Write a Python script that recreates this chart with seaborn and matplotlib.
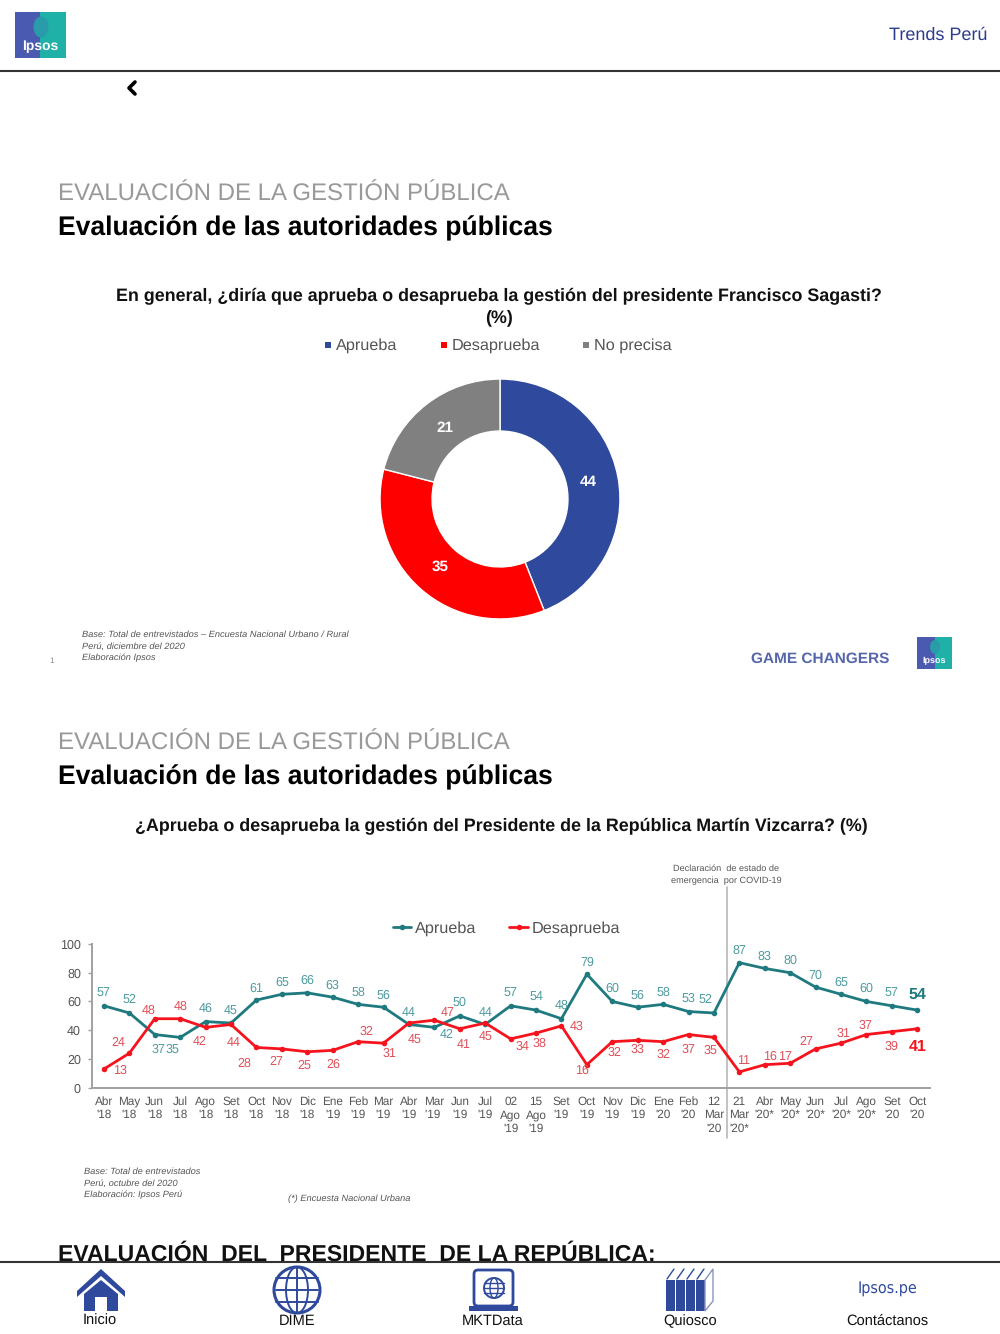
import matplotlib
matplotlib.use('Agg')
import matplotlib.pyplot as plt
import matplotlib.patches as mp
import pandas as pd
import seaborn as sns

# donut
donut_labels = ['Aprueba', 'Desaprueba', 'No precisa']
donut_values = [44, 35, 21]

# serie mensual
meses = ["Abr\n'18", "May\n'18", "Jun\n'18", "Jul\n'18", "Ago\n'18", "Set\n'18", "Oct\n'18", "Nov\n'18",
         "Dic\n'18", "Ene\n'19", "Feb\n'19", "Mar\n'19", "Abr\n'19", "Mar\n'19 ", "Jun\n'19", "Jul\n'19",
         "02\nAgo\n'19", "15\nAgo\n'19", "Set\n'19", "Oct\n'19", "Nov\n'19", "Dic\n'19", "Ene\n'20", "Feb\n'20",
         "12\nMar\n'20", "21\nMar\n'20*", "Abr\n'20*", "May\n'20*", "Jun\n'20*", "Jul\n'20*", "Ago\n'20*",
         "Set\n'20", "Oct\n'20"]
aprueba = [57, 52, 37, 35, 46, 45, 61, 65, 66, 63, 58, 56, 44, 42, 50, 44, 57, 54, 48, 79, 60, 56, 58, 53, 52,
           87, 83, 80, 70, 65, 60, 57, 54]
desaprueba = [13, 24, 48, 48, 42, 44, 28, 27, 25, 26, 32, 31, 45, 47, 41, 45, 34, 38, 43, 16, 32, 33, 32, 37, 35,
              11, 16, 17, 27, 31, 37, 39, 41]

# desplazamiento de cada etiqueta respecto a su punto, en pixeles
off_apr = [(0, 13), (0, 14), (4, -14), (-8, -11), (0, 14), (0, 13), (0, 13), (0, 13), (0, 13), (0, 13), (0, 13),
           (0, 13), (0, 13), (12, -6), (0, 14), (0, 13), (0, 13), (0, 14), (0, 14), (0, 13), (0, 14), (0, 13),
           (0, 13), (0, 14), (-9, 14), (0, 13), (0, 13), (0, 13), (0, 13), (0, 13), (0, 14), (0, 13), (0, 16)]
off_des = [(16, 0), (-11, 12), (-6, 9), (0, 13), (-6, -13), (3, -17), (-12, -15), (-6, -12), (-3, -13), (1, -13),
           (8, 11), (6, -9), (6, -16), (13, 9), (4, -15), (0, -13), (12, -7), (3, -9), (15, 0), (-5, -5), (2, -10),
           (0, -8), (0, -12), (0, -14), (-3, -12), (4, 12), (5, 9), (-5, 8), (-9, 8), (2, 11), (-1, 10), (0, -14),
           (0, -17)]

AZUL = '#2f4a9c'
ROJO = '#fe0000'
ROJO_LINEA = '#f5141e'
GRIS = '#808080'
TEAL = '#1f7a80'
TEAL_TXT = '#4f9ca0'
ROJO_TXT = '#e0505a'
INK = '#2c3b8c'

sns.set_theme(style='white')
plt.rcParams['font.family'] = ['Liberation Sans', 'DejaVu Sans']
plt.rcParams['text.hinting'] = 'no_hinting'

W, H = 1000, 1334
fig = plt.figure(figsize=(W / 100, H / 100), dpi=100, facecolor='white')


def px_axes(l, t, r, b):
    return fig.add_axes([l / W, 1 - b / H, (r - l) / W, (b - t) / H])


# capa de fondo en pixeles para textos e iconos
bg = fig.add_axes([0, 0, 1, 1], zorder=5)
bg.set_xlim(0, W)
bg.set_ylim(H, 0)
bg.axis('off')
bg.patch.set_alpha(0)

# donut
ax1 = px_axes(378, 377, 622, 621)
ax1.pie(donut_values, colors=[AZUL, ROJO, GRIS], startangle=90, counterclock=False, radius=1,
        wedgeprops=dict(width=52 / 120, edgecolor='white', linewidth=1),
        autopct=lambda p: f'{p:.0f}', pctdistance=0.75,
        textprops=dict(color='white', fontweight='bold', fontsize=11))
ax1.set_xlim(-1.017, 1.017)
ax1.set_ylim(-1.017, 1.017)

# lineas
df = pd.DataFrame({'mes': meses * 2,
                   'valor': aprueba + desaprueba,
                   'serie': ['Aprueba'] * len(meses) + ['Desaprueba'] * len(meses)})
ax2 = px_axes(92, 944, 930, 1087.7)
sns.lineplot(data=df, x='mes', y='valor', hue='serie', palette={'Aprueba': TEAL, 'Desaprueba': ROJO_LINEA},
             marker='o', markersize=4, markeredgewidth=0, linewidth=2, sort=False, ax=ax2)
ax2.set_xlim(-0.47, 32.5)
ax2.set_ylim(0, 100)
ax2.set_xlabel('')
ax2.set_ylabel('')
ax2.set_yticks([0, 20, 40, 60, 80, 100])
ax2.tick_params(axis='y', labelsize=9, labelcolor='#555555', length=3, width=1, color='#a0a0a0', pad=5, left=True)
ax2.tick_params(axis='x', labelsize=8.5, labelcolor='#555555', length=0, pad=6)
for lab in ax2.get_xticklabels():
    lab.set_linespacing(1.25)
for s in ['top', 'right']:
    ax2.spines[s].set_visible(False)
for s in ['left', 'bottom']:
    ax2.spines[s].set_color('#a0a0a0')
    ax2.spines[s].set_linewidth(1.4)

handles, labels = ax2.get_legend_handles_labels()
ax2.legend(handles, labels, ncol=2, frameon=False, loc='center', bbox_to_anchor=(506.5, 929),
           bbox_transform=bg.transData, fontsize=11.7, labelcolor='#555555', handlelength=1.15,
           handletextpad=0.25, columnspacing=2.0, borderpad=0)

for i, (a, d) in enumerate(zip(aprueba, desaprueba)):
    last = i == len(meses) - 1
    size = 11.5 if last else 9
    weight = 'bold' if last else 'normal'
    ax2.annotate(str(a), (i, a), xytext=(off_apr[i][0], off_apr[i][1] - 1), textcoords='offset pixels',
                 ha='center', va='center', fontsize=size, fontweight=weight, color=TEAL if last else TEAL_TXT)
    ax2.annotate(str(d), (i, d), xytext=(off_des[i][0], off_des[i][1] - 1), textcoords='offset pixels',
                 ha='center', va='center', fontsize=size, fontweight=weight, color=ROJO_LINEA if last else ROJO_TXT)

# linea de la declaracion de emergencia
ax2.plot([24.5, 24.5], [-35, 139.6], color='#b8b8b8', lw=1.2, clip_on=False, zorder=1)

# cabecera
bg.plot([0, W], [71, 71], color='#333333', lw=1.5)
bg.add_patch(mp.Rectangle((15, 12), 25, 46, color='#4a5ab0', lw=0))
bg.add_patch(mp.Rectangle((40, 12), 26, 46, color='#1fb0a8', lw=0))
bg.add_patch(mp.Ellipse((41, 27), 15, 21, color='#2a9ba8', lw=0))
bg.text(40, 46, 'Ipsos', color='white', fontsize=10, fontweight='bold', ha='center', va='center')
bg.text(987, 35, 'Trends Perú', color=INK, fontsize=13, ha='right', va='center')
bg.plot([135, 129, 135], [82, 88, 94], color='black', lw=2.6, solid_capstyle='round')

# primer bloque
bg.text(58, 195, 'EVALUACIÓN DE LA GESTIÓN PÚBLICA', color='#999999', fontsize=17.3, va='center')
bg.text(58, 228, 'Evaluación de las autoridades públicas', color='black', fontsize=19.1, fontweight='bold', va='center')
bg.text(499, 296, 'En general, ¿diría que aprueba o desaprueba la gestión del presidente Francisco Sagasti?',
        color='#111111', fontsize=12.84, fontweight='bold', ha='center', va='center')
bg.text(499, 318, '(%)', color='#111111', fontsize=12.84, fontweight='bold', ha='center', va='center')
for x, c, t in zip([328, 444, 586], [AZUL, ROJO, GRIS], donut_labels):
    bg.add_patch(mp.Rectangle((x - 3, 342), 6, 6, color=c, lw=0))
    bg.text(x + 8, 346, t, color='#555555', fontsize=11.7, va='center')

for y, t in zip([635, 647, 658], ['Base: Total de entrevistados – Encuesta Nacional Urbano / Rural',
                                  'Perú, diciembre del 2020', 'Elaboración Ipsos']):
    bg.text(82, y, t, color='#555555', fontsize=6.7, style='italic', va='center')
bg.text(52, 661, '1', color='#888888', fontsize=6, ha='center', va='center')
bg.text(751, 659, 'GAME CHANGERS', color='#5566aa', fontsize=11.1, fontweight='bold', va='center')
bg.add_patch(mp.Rectangle((917, 637), 18, 32, color='#4a5ab0', lw=0))
bg.add_patch(mp.Rectangle((935, 637), 17, 32, color='#1fb0a8', lw=0))
bg.add_patch(mp.Ellipse((935, 647), 10, 14, color='#2a9ba8', lw=0))
bg.text(934, 661, 'Ipsos', color='white', fontsize=6.5, fontweight='bold', ha='center', va='center')

# segundo bloque
bg.text(58, 744, 'EVALUACIÓN DE LA GESTIÓN PÚBLICA', color='#999999', fontsize=17.3, va='center')
bg.text(58, 777, 'Evaluación de las autoridades públicas', color='black', fontsize=19.1, fontweight='bold', va='center')
bg.text(501, 826, '¿Aprueba o desaprueba la gestión del Presidente de la República Martín Vizcarra? (%)',
        color='#111111', fontsize=12.83, fontweight='bold', ha='center', va='center')
bg.text(726, 869, 'Declaración  de estado de', color='#555555', fontsize=6.6, ha='center', va='center')
bg.text(726, 881, 'emergencia  por COVID-19', color='#555555', fontsize=6.6, ha='center', va='center')
for y, t in zip([1172, 1184, 1195], ['Base: Total de entrevistados', 'Perú, octubre del 2020',
                                     'Elaboración: Ipsos Perú']):
    bg.text(84, y, t, color='#555555', fontsize=6.7, style='italic', va='center')
bg.text(288, 1199, '(*) Encuesta Nacional Urbana', color='#555555', fontsize=6.7, style='italic', va='center')

# texto cortado y barra inferior
bg.text(58, 1255, 'EVALUACIÓN  DEL  PRESIDENTE  DE LA REPÚBLICA:', color='#111111', fontsize=16.6, fontweight='bold',
        va='center')
bg.add_patch(mp.Rectangle((0, 1261), W, 73, color='white', lw=0, zorder=3))
bg.plot([0, W], [1261.5, 1261.5], color='#333333', lw=1.5, zorder=4)

NAV = '#2f4a9c'
# casa
bg.add_patch(mp.Polygon([(77, 1291), (101, 1269), (125, 1291), (125, 1297), (101, 1276), (77, 1297)],
                        color=NAV, lw=0, zorder=4))
bg.add_patch(mp.Polygon([(84, 1294), (101, 1280), (118, 1294), (118, 1311), (107, 1311), (107, 1297), (95, 1297),
                         (95, 1311), (84, 1311)], color=NAV, lw=0, zorder=4))
# globo
bg.add_patch(mp.Circle((297, 1290), 23, fill=False, ec=NAV, lw=2.2, zorder=4))
bg.add_patch(mp.Ellipse((297, 1290), 22, 46, fill=False, ec=NAV, lw=1.4, zorder=4))
for y in [1278, 1290, 1302]:
    bg.plot([276, 318], [y, y], color=NAV, lw=1.4, zorder=4)
bg.plot([297, 297], [1267, 1313], color=NAV, lw=1.4, zorder=4)
# portatil
bg.add_patch(mp.FancyBboxPatch((474, 1270), 39, 36, boxstyle='round,pad=0,rounding_size=4', fill=False, ec=NAV, lw=2,
                               zorder=4))
bg.add_patch(mp.Rectangle((469, 1306), 49, 5, color=NAV, lw=0, zorder=4))
bg.add_patch(mp.Circle((494, 1288), 10, fill=False, ec=NAV, lw=1.4, zorder=4))
bg.add_patch(mp.Ellipse((494, 1288), 8, 20, fill=False, ec=NAV, lw=1, zorder=4))
for y in [1283, 1288, 1293]:
    bg.plot([484, 504], [y, y], color=NAV, lw=1, zorder=4)
# libros
for x in [666, 676, 686, 696]:
    bg.add_patch(mp.Rectangle((x, 1280), 8.5, 31, color=NAV, lw=0, zorder=4))
    bg.plot([x + 1, x + 8], [1279, 1269], color=NAV, lw=1, zorder=4)
bg.add_patch(mp.Polygon([(705, 1280), (713, 1269), (713, 1301), (705, 1311)], fill=False, ec='#8892c0', lw=1, zorder=4))
bg.text(887, 1289, 'Ipsos.pe', color=NAV, fontsize=11.5, ha='center', va='center', zorder=4,
        family='DejaVu Sans', stretch='condensed')

for x, t in zip([100, 297, 493, 690, 887], ['Inicio', 'DIME', 'MKTData', 'Quiosco', 'Contáctanos']):
    bg.text(x, 1321, t, color='#111111', fontsize=10.5, ha='center', va='center', zorder=4)

fig.savefig('out.png', dpi=100)
